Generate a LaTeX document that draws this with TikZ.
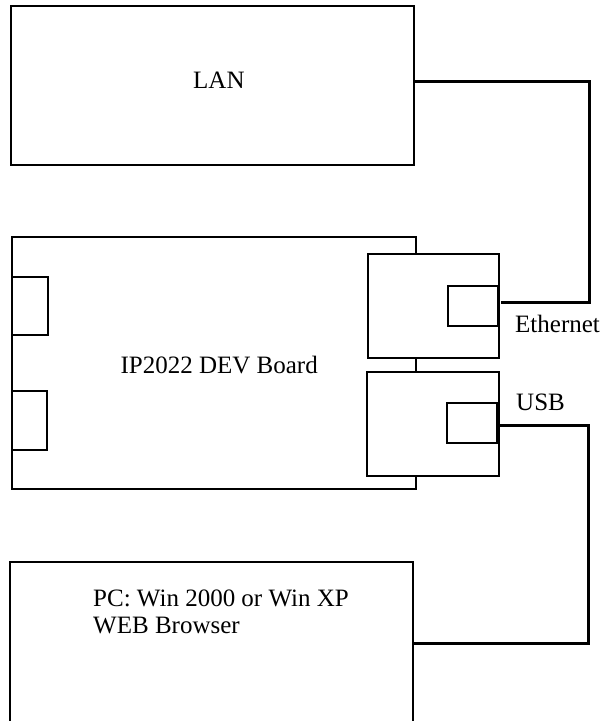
\documentclass[tikz,border=0pt]{standalone}
\usepackage{fontspec}
\setmainfont{Liberation Serif}
\begin{document}
\begin{tikzpicture}[x=1pt,y=-1pt,
  box/.style={draw=black,line width=2pt,fill=white,inner sep=0pt},
  conn/.style={draw=black,line width=3pt},
  lbl/.style={inner sep=0pt,font=\fontsize{25}{27}\selectfont}]
\clip (0,0) rectangle (608,721);
\fill[white] (0,0) rectangle (608,721);
% LAN
\node[box,minimum width=403pt,minimum height=159pt] (lan) at (212.5,85.5) {};
\node[lbl,anchor=base west] (lantxt) at (193,88) {LAN};
% board
\node[box,minimum width=404pt,minimum height=252pt] (board) at (214,363) {};
\node[box,minimum width=36pt,minimum height=58pt] (p1) at (30,306) {};
\node[box,minimum width=35pt,minimum height=59pt] (p2) at (29.5,420.5) {};
\node[lbl,anchor=base east] (boardtxt) at (318,373) {IP2022 DEV Board};
% ethernet module
\node[box,minimum width=131pt,minimum height=104pt] (eth) at (433.5,306) {};
\node[box,minimum width=50pt,minimum height=40pt] (ethjack) at (473,306) {};
% usb module
\node[box,minimum width=132pt,minimum height=104pt] (usb) at (433,424) {};
\node[box,minimum width=50pt,minimum height=40pt] (usbjack) at (472,423) {};
% PC
\node[box,minimum width=403pt,minimum height=162pt] (pc) at (211.5,643) {};
\node[lbl,anchor=base west,align=left] (pctxt) at (93,633) {PC: Win 2000 or Win XP\\WEB Browser};
% labels
\node[lbl,anchor=base west] (ethtxt) at (515,332) {Ethernet};
\node[lbl,anchor=base west] (usbtxt) at (516,410) {USB};
% connectors
\draw[conn] ([yshift=4.5pt]lan.east) -- ++(174,0) |- ([xshift=2pt,yshift=4pt]ethjack.east);
\draw[conn] ([yshift=-2pt]usbjack.east) -- ++(90,0) |- (pc.east);
\end{tikzpicture}
\end{document}
